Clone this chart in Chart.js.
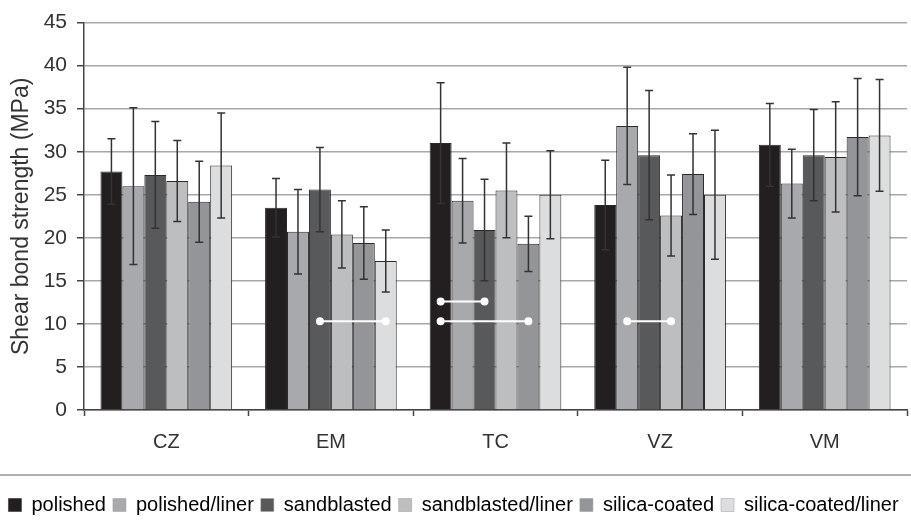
<!DOCTYPE html>
<html>
<head>
<meta charset="utf-8">
<script src="https://cdn.jsdelivr.net/npm/chart.js@4.4.1/dist/chart.umd.min.js"></script>
<style>
  body { margin: 0; background: #fff; }
  #wrap { width: 911px; height: 532px; }
</style>
</head>
<body>
<div id="wrap"><canvas id="chartBar"></canvas></div>
<script>
// categories and series
var categories = ['CZ', 'EM', 'TC', 'VZ', 'VM'];
var seriesNames = ['polished', 'polished/liner', 'sandblasted', 'sandblasted/liner', 'silica-coated', 'silica-coated/liner'];

// mean values (MPa)
var polished = [27.7, 23.5, 31.0, 23.8, 30.8];
var polishedLiner = [26.0, 20.7, 24.3, 33.0, 26.3];
var sandblasted = [27.3, 25.6, 20.9, 29.6, 29.6];
var sandblastedLiner = [26.6, 20.4, 25.5, 22.6, 29.4];
var silicaCoated = [24.2, 19.4, 19.3, 27.4, 31.7];
var silicaCoatedLiner = [28.4, 17.3, 25.0, 25.0, 31.9];

// standard deviations
var polishedSd = [3.8, 3.4, 7.0, 5.2, 4.8];
var polishedLinerSd = [9.1, 4.9, 4.9, 6.8, 4.0];
var sandblastedSd = [6.2, 4.9, 5.9, 7.5, 5.3];
var sandblastedLinerSd = [4.7, 3.9, 5.5, 4.7, 6.4];
var silicaCoatedSd = [4.7, 4.2, 3.2, 4.7, 6.8];
var silicaCoatedLinerSd = [6.1, 3.6, 5.1, 7.5, 6.5];

// significance connectors (category index, from series, to series, level)
var sigCategory = [1, 2, 2, 3];
var sigFrom = [2, 0, 0, 1];
var sigTo = [5, 2, 4, 3];
var sigLevel = [10.3, 12.6, 10.3, 10.3];

var yTicks = [0, 5, 10, 15, 20, 25, 30, 35, 40, 45];

var colors = ['#231f20', '#a7a9ac', '#58595b', '#bcbec0', '#939598', '#dcddde'];
var values = [polished, polishedLiner, sandblasted, sandblastedLiner, silicaCoated, silicaCoatedLiner];
var sds = [polishedSd, polishedLinerSd, sandblastedSd, sandblastedLinerSd, silicaCoatedSd, silicaCoatedLinerSd];

var FONT = "'Liberation Sans', Arial, sans-serif";

var datasets = seriesNames.map(function (name, i) {
  return {
    label: name,
    data: values[i],
    sd: sds[i],
    backgroundColor: colors[i],
    borderColor: '#2a2a2a',
    borderWidth: 1,
    barPercentage: 1,
    categoryPercentage: 0.8
  };
});

// error bars drawn from the scale
var errorBars = {
  id: 'errorBars',
  afterDatasetsDraw: function (chart) {
    var ctx = chart.ctx;
    var yScale = chart.scales.y;
    ctx.save();
    ctx.strokeStyle = '#333';
    ctx.lineWidth = 1.5;
    chart.data.datasets.forEach(function (ds, di) {
      var meta = chart.getDatasetMeta(di);
      meta.data.forEach(function (bar, i) {
        var v = ds.data[i];
        var e = ds.sd[i];
        var yHi = yScale.getPixelForValue(v + e);
        var yLo = yScale.getPixelForValue(v - e);
        ctx.beginPath();
        ctx.moveTo(bar.x, yHi);
        ctx.lineTo(bar.x, yLo);
        ctx.moveTo(bar.x - 4, yHi);
        ctx.lineTo(bar.x + 4, yHi);
        ctx.moveTo(bar.x - 4, yLo);
        ctx.lineTo(bar.x + 4, yLo);
        ctx.stroke();
      });
    });
    // white significance connectors
    ctx.strokeStyle = '#ffffff';
    ctx.fillStyle = '#ffffff';
    ctx.lineWidth = 2;
    for (var k = 0; k < sigCategory.length; k++) {
      var a = chart.getDatasetMeta(sigFrom[k]).data[sigCategory[k]];
      var b = chart.getDatasetMeta(sigTo[k]).data[sigCategory[k]];
      var y = yScale.getPixelForValue(sigLevel[k]);
      ctx.beginPath();
      ctx.moveTo(a.x, y);
      ctx.lineTo(b.x, y);
      ctx.stroke();
      ctx.beginPath();
      ctx.arc(a.x, y, 4, 0, Math.PI * 2);
      ctx.arc(b.x, y, 4, 0, Math.PI * 2);
      ctx.fill();
    }
    ctx.restore();
  },
  afterDraw: function (chart) {
    // separator lines around the legend
    var hb = chart.legend.legendHitBoxes[0];
    if (!hb) return;
    var cy = hb.top + hb.height / 2;
    var ctx = chart.ctx;
    ctx.save();
    ctx.strokeStyle = '#b0b0b0';
    ctx.lineWidth = 2;
    ctx.beginPath();
    ctx.moveTo(0, cy - 30);
    ctx.lineTo(chart.width, cy - 30);
    ctx.moveTo(0, cy + 28);
    ctx.lineTo(chart.width, cy + 28);
    ctx.stroke();
    ctx.restore();
  }
};

var configBar = {
  type: 'bar',
  data: {
    labels: categories,
    datasets: datasets
  },
  options: {
    responsive: true,
    maintainAspectRatio: false,
    animation: false,
    layout: { padding: { top: 14, right: 4, bottom: 7, left: 0 } },
    plugins: {
      tooltip: { enabled: false },
      legend: {
        position: 'bottom',
        labels: {
          boxWidth: 13,
          boxHeight: 13,
          padding: 7,
          color: '#333',
          font: { family: FONT, size: 20 },
          generateLabels: function (chart) {
            return chart.data.datasets.map(function (ds, i) {
              return {
                text: ds.label,
                fillStyle: ds.backgroundColor,
                strokeStyle: i === 0 ? '#231f20' : '#999',
                lineWidth: 0.5,
                datasetIndex: i
              };
            });
          }
        }
      }
    },
    scales: {
      x: {
        offset: true,
        grid: { offset: true, drawOnChartArea: false, tickLength: 6, tickColor: '#444', tickWidth: 1.5 },
        border: { color: '#444', width: 1.5 },
        ticks: { color: '#333', padding: 14, font: { family: FONT, size: 20 } },
        afterFit: function (s) { s.height = 78; }
      },
      y: {
        min: 0,
        max: 45,
        afterBuildTicks: function (s) {
          s.ticks = yTicks.map(function (v) { return { value: v }; });
        },
        grid: { color: '#a8a8a8', lineWidth: 1.5, tickLength: 7, tickColor: '#444', tickWidth: 1.5 },
        border: { color: '#444', width: 1.5 },
        ticks: { color: '#333', padding: 10, font: { family: FONT, size: 21 } },
        title: {
          display: true,
          text: 'Shear bond strength (MPa)',
          color: '#333',
          padding: { top: 8, bottom: 0 },
          font: { family: FONT, size: 23 }
        },
        afterFit: function (s) { s.width = 84; }
      }
    }
  },
  plugins: [errorBars]
};

var chartBar = new Chart(document.getElementById('chartBar'), configBar);
</script>
</body>
</html>
